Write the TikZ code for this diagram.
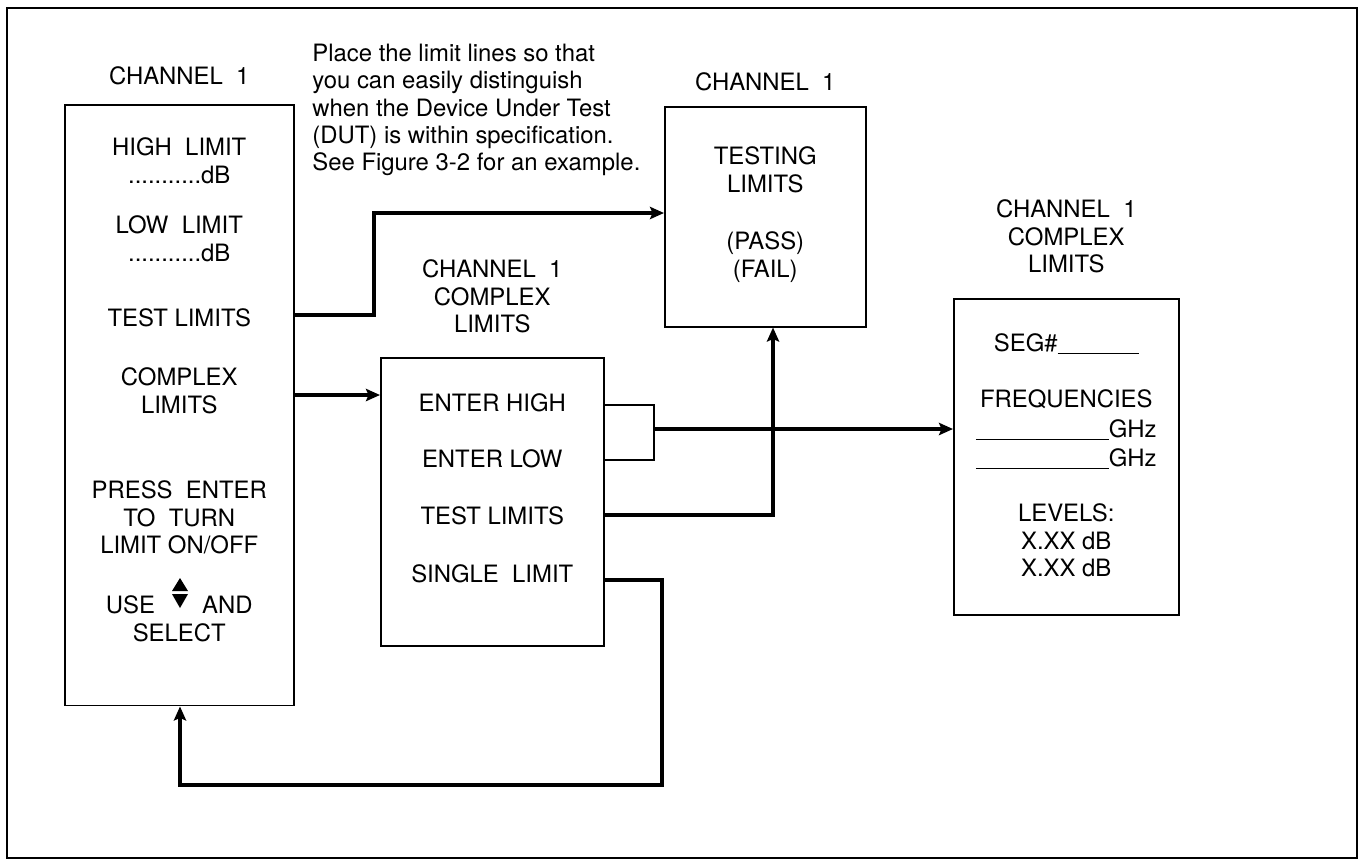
\documentclass[tikz,border=0pt]{standalone}
\usepackage{fontspec}
\setmainfont{TeX Gyre Heros}
\usetikzlibrary{arrows.meta, positioning}

\newcommand{\panelfont}{\fontsize{13.6}{15.6}\selectfont}
\newcommand{\blank}[1]{\rule[-1.5pt]{#1}{0.7pt}}

\begin{document}
\begin{tikzpicture}[
  x=0.02cm, y=-0.02cm,
  every node/.style={font=\panelfont},
  panel/.style={draw, line width=0.9pt, anchor=north west, inner sep=0pt},
  txt/.style={inner sep=0pt, align=center},
  note/.style={inner sep=0pt, align=left, anchor=north west},
  flow/.style={-{Stealth[length=8pt, width=7pt, inset=1.5pt]}, line width=1.8pt},
  wire/.style={line width=1.1pt}
]
\path[fill=white, use as bounding box] (0,0) rectangle (1364,866);
\draw[line width=1.3pt] (7,8) rectangle (1357,858);

% Left: channel menu
\node[panel, minimum width=4.58cm, minimum height=12.02cm] (menu) at (64,104) {};
\node[txt, above=0.37cm of menu] (menulbl) {CHANNEL\ \ 1};
\node[txt, below=0.67cm of menu.north] (hilim) {HIGH\ \ LIMIT\\...........dB};
\node[txt, below=2.23cm of menu.north] (lolim) {LOW\ \ LIMIT\\...........dB};
\node[txt, below=4.09cm of menu.north] (tstlim) {TEST LIMITS};
\node[txt, below=5.27cm of menu.north] (cpxlim) {COMPLEX\\LIMITS};
\node[txt, below=7.53cm of menu.north] (press) {PRESS\ \ ENTER\\TO\ \ TURN\\LIMIT ON/OFF};
\node[txt, below=9.83cm of menu.north] (usekey) {USE\hspace{0.94cm}AND\\SELECT};
\fill (180,578) -- (188,591) -- (172,591) -- cycle;
\fill (172,594) -- (188,594) -- (180,608) -- cycle;

% Note
\node[note] (hint) at (312,43.5) {Place the limit lines so that\\you can easily distinguish\\when the Device Under Test\\(DUT) is within specification.\\See Figure 3-2 for an example.};

% Top: testing limits
\node[panel, minimum width=4.02cm, minimum height=4.4cm] (testbox) at (664,106) {};
\node[txt, above=0.29cm of testbox] (testlbl) {CHANNEL\ \ 1};
\node[txt, below=0.81cm of testbox.north] (testing) {TESTING\\LIMITS};
\node[txt, below=2.51cm of testbox.north] (passfail) {(PASS)\\(FAIL)};

% Middle: complex limits menu
\node[panel, minimum width=4.46cm, minimum height=5.76cm] (cplx) at (380,357) {};
\node[txt, above=0.47cm of cplx] (cplxlbl) {CHANNEL\ \ 1\\COMPLEX\\LIMITS};
\node[txt, below=0.73cm of cplx.north] (enthi) {ENTER HIGH};
\node[txt, below=1.85cm of cplx.north] (entlo) {ENTER LOW};
\node[txt, below=2.99cm of cplx.north] (cpxtst) {TEST LIMITS};
\node[txt, below=4.15cm of cplx.north] (single) {SINGLE\ \ LIMIT};

% Right: segment entry
\node[panel, minimum width=4.5cm, minimum height=6.32cm] (segbox) at (953,298) {};
\node[txt, above=0.49cm of segbox] (seglbl) {CHANNEL\ \ 1\\COMPLEX\\LIMITS};
\node[txt, below=0.71cm of segbox.north] (segno) {SEG\#\blank{1.62cm}};
\node[txt, below=1.83cm of segbox.north] (freq) {FREQUENCIES};
\node[txt, below=2.43cm of segbox.north] (freqa) {\blank{2.66cm}GHz};
\node[txt, below=3.01cm of segbox.north] (freqb) {\blank{2.66cm}GHz};
\node[txt, below=4.11cm of segbox.north] (levels) {LEVELS:\\X.XX dB\\X.XX dB};

% Connectors
\coordinate (fork) at (654,429);
\draw[flow] (menu.east |- 0,315) -| (374,213) -- (testbox.west |- 0,213);
\draw[flow] (menu.east |- 0,395) -- (cplx.west |- 0,395);
\draw[wire] (cplx.east |- 0,405) -| (fork |- 0,460) -- (cplx.east |- 0,460);
\draw[flow] (fork) -- (segbox.west |- fork);
\draw[flow] (cplx.east |- 0,515) -| (testbox.south -| 773,0);
\draw[flow] (cplx.east |- 0,580) -| (662,785) -| (menu.south -| 180,0);

\end{tikzpicture}
\end{document}
